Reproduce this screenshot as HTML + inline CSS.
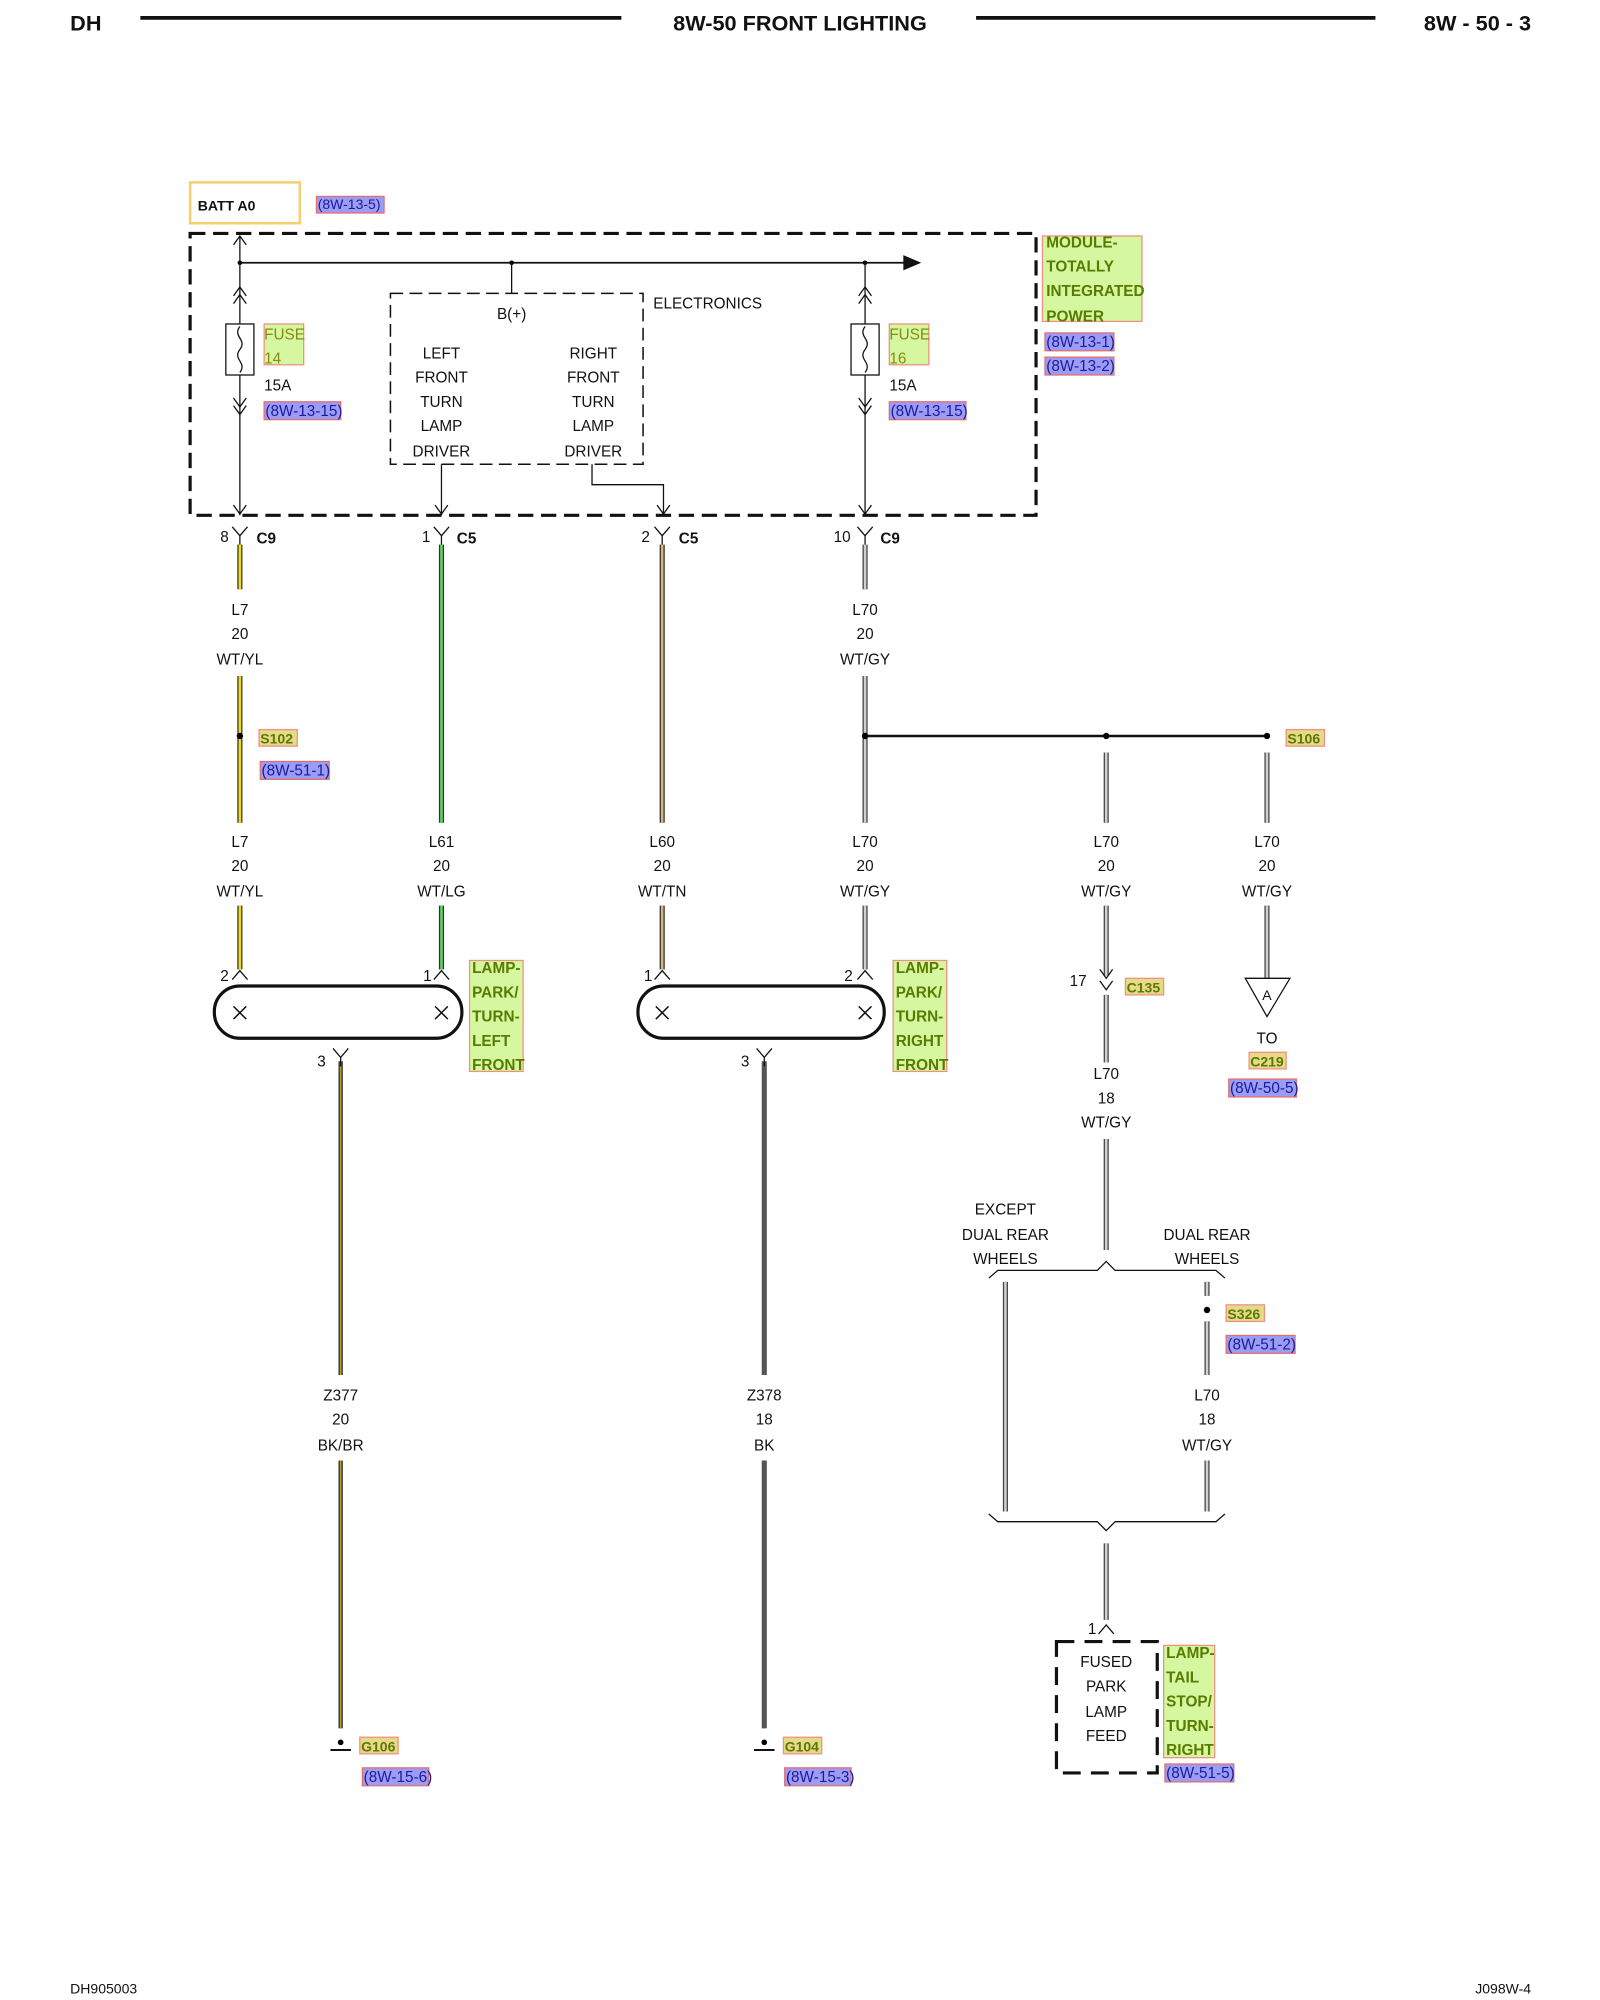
<!DOCTYPE html>
<html><head><meta charset="utf-8"><style>
html,body{margin:0;padding:0;background:#fff;}
svg{display:block;}
text{font-family:"Liberation Sans",sans-serif;font-size:12px;fill:#111;}
.c{text-anchor:middle;}
.b{font-weight:bold;}
.g{fill:#5a7a00;font-weight:bold;}
.gn{fill:#8a8a10;}
.r{fill:#1a1aa0;}
.hb{fill:#9c9cf4;stroke:#e07070;stroke-width:1;}
.hg{fill:#d4f7a0;stroke:#f09080;stroke-width:1;}
.ho{fill:#e7d98a;stroke:#f09080;stroke-width:1;}
</style></head><body>
<svg width="1600" height="2000" viewBox="0 0 1254 1568" preserveAspectRatio="none" xmlns="http://www.w3.org/2000/svg">
<defs>
<g id="yd"><path d="M-6,-8 L0,-1 L6,-8 M0,-1 L0,6" fill="none" stroke="#111" stroke-width="1"/></g>
<g id="up"><path d="M-6,5 L0,-2 L6,5" fill="none" stroke="#111" stroke-width="1"/></g>
<g id="x"><path d="M-5,-5 L5,5 M5,-5 L-5,5" stroke="#111" stroke-width="1.2"/></g>
</defs>
<!-- header -->
<text x="55" y="24" class="b" style="font-size:17px">DH</text>
<line x1="110" y1="14" x2="487" y2="14" stroke="#111" stroke-width="3"/>
<text x="627" y="24" class="b c" style="font-size:17px">8W-50 FRONT LIGHTING</text>
<line x1="765" y1="14" x2="1078" y2="14" stroke="#111" stroke-width="3"/>
<text x="1200" y="24" class="b" style="font-size:17px;text-anchor:end">8W - 50 - 3</text>
<text x="55" y="1563" style="font-size:11px">DH905003</text>
<text x="1200" y="1563" style="font-size:11px;text-anchor:end">J098W-4</text>

<!-- BATT -->
<rect x="149" y="143" width="86" height="32" fill="none" stroke="#f5d070" stroke-width="2"/>
<text x="155" y="165" class="b" style="font-size:11px">BATT A0</text>
<rect x="248" y="154" width="53" height="13" class="hb"/><text x="249" y="164" class="r" style="font-size:11px">(8W-13-5)</text>

<!-- module box -->
<rect x="149" y="183" width="663" height="221" fill="none" stroke="#111" stroke-width="2.5" stroke-dasharray="12 6"/>
<line x1="188" y1="206" x2="710" y2="206" stroke="#111" stroke-width="1.3"/>
<path d="M708,200 L722,206 L708,212Z" fill="#111"/>
<circle cx="188" cy="206" r="1.8"/><circle cx="401" cy="206" r="1.8"/><circle cx="678" cy="206" r="1.8"/>
<line x1="401" y1="206" x2="401" y2="230" stroke="#111"/>
<line x1="188" y1="186" x2="188" y2="404" stroke="#111"/>
<path d="M183,192 L188,185 L193,192 M183,232 L188,225 L193,232 M183,238 L188,231 L193,238 M183,312 L188,319 L193,312 M183,318 L188,325 L193,318 M183,396 L188,403 L193,396" fill="none" stroke="#111"/>
<rect x="177" y="254" width="22" height="40" fill="#fff" stroke="#111"/>
<path d="M188,256 c-6,8 6,10 0,18 c-6,8 6,10 0,18" fill="none" stroke="#111"/>
<rect x="207" y="254" width="31" height="32" class="hg"/>
<text x="207" y="266" class="gn">FUSE</text><text x="207" y="285" class="gn">14</text>
<text x="207" y="306">15A</text>
<rect x="207" y="315" width="60" height="14" class="hb"/><text x="208" y="326" class="r">(8W-13-15)</text>
<line x1="678" y1="206" x2="678" y2="404" stroke="#111"/>
<path d="M673,232 L678,225 L683,232 M673,238 L678,231 L683,238 M673,312 L678,319 L683,312 M673,318 L678,325 L683,318 M673,396 L678,403 L683,396" fill="none" stroke="#111"/>
<rect x="667" y="254" width="22" height="40" fill="#fff" stroke="#111"/>
<path d="M678,256 c-6,8 6,10 0,18 c-6,8 6,10 0,18" fill="none" stroke="#111"/>
<rect x="697" y="254" width="31" height="32" class="hg"/>
<text x="697" y="266" class="gn">FUSE</text><text x="697" y="285" class="gn">16</text>
<text x="697" y="306">15A</text>
<rect x="697" y="315" width="60" height="14" class="hb"/><text x="698" y="326" class="r">(8W-13-15)</text>
<rect x="306" y="230" width="198" height="134" fill="none" stroke="#111" stroke-width="1.2" stroke-dasharray="10 5"/>
<text x="512" y="242">ELECTRONICS</text>
<text x="401" y="250" class="c">B(+)</text>
<text x="346" y="281" class="c">LEFT</text><text x="346" y="300" class="c">FRONT</text><text x="346" y="319" class="c">TURN</text><text x="346" y="338" class="c">LAMP</text><text x="346" y="358" class="c">DRIVER</text>
<text x="465" y="281" class="c">RIGHT</text><text x="465" y="300" class="c">FRONT</text><text x="465" y="319" class="c">TURN</text><text x="465" y="338" class="c">LAMP</text><text x="465" y="358" class="c">DRIVER</text>
<line x1="346" y1="364" x2="346" y2="404" stroke="#111"/>
<path d="M341,396 L346,403 L351,396" fill="none" stroke="#111"/>
<path d="M464,364 L464,380 L520,380 L520,404" fill="none" stroke="#111"/>
<path d="M515,396 L520,403 L525,396" fill="none" stroke="#111"/>
<rect x="817" y="185" width="78" height="67" class="hg"/>
<text x="820" y="194" class="g">MODULE-</text><text x="820" y="213" class="g">TOTALLY</text><text x="820" y="232" class="g">INTEGRATED</text><text x="820" y="252" class="g">POWER</text>
<rect x="819" y="261" width="54" height="14" class="hb"/><text x="820" y="272" class="r">(8W-13-1)</text>
<rect x="819" y="280" width="54" height="14" class="hb"/><text x="820" y="291" class="r">(8W-13-2)</text>

<use href="#yd" x="188" y="421"/><text x="176" y="425" class="c">8</text><text x="201" y="426" class="b">C9</text>
<use href="#yd" x="346" y="421"/><text x="334" y="425" class="c">1</text><text x="358" y="426" class="b">C5</text>
<use href="#yd" x="519" y="421"/><text x="506" y="425" class="c">2</text><text x="532" y="426" class="b">C5</text>
<use href="#yd" x="678" y="421"/><text x="660" y="425" class="c">10</text><text x="690" y="426" class="b">C9</text>

<g fill="none">
<path d="M188,427V462 M188,530V645 M188,710V760" stroke="#333" stroke-width="4"/>
<path d="M188,427V462 M188,530V645 M188,710V760" stroke="#f2e000" stroke-width="2"/>
<path d="M346,427V645 M346,710V760" stroke="#333" stroke-width="4"/>
<path d="M346,427V645 M346,710V760" stroke="#5fd85f" stroke-width="2"/>
<path d="M519,427V645 M519,710V760" stroke="#333" stroke-width="4"/>
<path d="M519,427V645 M519,710V760" stroke="#d6b870" stroke-width="2"/>
<path d="M678,427V462 M678,530V645 M678,710V760 M867,590V645 M867,710V765 M867,780V833 M867,893V980 M993,590V645 M993,710V767 M788,1005V1185 M946,1005V1016 M946,1036V1078 M946,1145V1185 M867,1210V1270" stroke="#444" stroke-width="4"/>
<path d="M678,427V462 M678,530V645 M678,710V760 M867,590V645 M867,710V765 M867,780V833 M867,893V980 M993,590V645 M993,710V767 M788,1005V1185 M946,1005V1016 M946,1036V1078 M946,1145V1185 M867,1210V1270" stroke="#d0d0d0" stroke-width="2"/>
<path d="M267,832V1078 M267,1145V1355" stroke="#444" stroke-width="3.5"/>
<path d="M267,832V1078 M267,1145V1355" stroke="#b8a030" stroke-width="1"/>
<path d="M599,832V1078 M599,1145V1355" stroke="#555" stroke-width="4"/>
</g>
<circle cx="188" cy="577" r="2.5"/>
<rect x="203" y="572" width="30" height="13" class="ho"/><text x="204" y="583" class="g" style="font-size:11px">S102</text>
<rect x="204" y="597" width="54" height="14" class="hb"/><text x="205" y="608" class="r">(8W-51-1)</text>
<line x1="678" y1="577" x2="993" y2="577" stroke="#111" stroke-width="2"/>
<circle cx="678" cy="577" r="2.5"/><circle cx="867" cy="577" r="2.5"/><circle cx="993" cy="577" r="2.5"/>
<rect x="1008" y="572" width="30" height="13" class="ho"/><text x="1009" y="583" class="g" style="font-size:11px">S106</text>

<text x="188" y="482" class="c">L7</text><text x="188" y="501" class="c">20</text><text x="188" y="521" class="c">WT/YL</text>
<text x="678" y="482" class="c">L70</text><text x="678" y="501" class="c">20</text><text x="678" y="521" class="c">WT/GY</text>
<text x="188" y="664" class="c">L7</text><text x="188" y="683" class="c">20</text><text x="188" y="703" class="c">WT/YL</text>
<text x="346" y="664" class="c">L61</text><text x="346" y="683" class="c">20</text><text x="346" y="703" class="c">WT/LG</text>
<text x="519" y="664" class="c">L60</text><text x="519" y="683" class="c">20</text><text x="519" y="703" class="c">WT/TN</text>
<text x="678" y="664" class="c">L70</text><text x="678" y="683" class="c">20</text><text x="678" y="703" class="c">WT/GY</text>
<text x="867" y="664" class="c">L70</text><text x="867" y="683" class="c">20</text><text x="867" y="703" class="c">WT/GY</text>
<text x="993" y="664" class="c">L70</text><text x="993" y="683" class="c">20</text><text x="993" y="703" class="c">WT/GY</text>
<text x="867" y="846" class="c">L70</text><text x="867" y="865" class="c">18</text><text x="867" y="884" class="c">WT/GY</text>
<text x="267" y="1098" class="c">Z377</text><text x="267" y="1117" class="c">20</text><text x="267" y="1137" class="c">BK/BR</text>
<text x="599" y="1098" class="c">Z378</text><text x="599" y="1117" class="c">18</text><text x="599" y="1137" class="c">BK</text>
<text x="946" y="1098" class="c">L70</text><text x="946" y="1117" class="c">18</text><text x="946" y="1137" class="c">WT/GY</text>

<use href="#up" x="188" y="763"/><text x="176" y="769" class="c">2</text>
<use href="#up" x="346" y="763"/><text x="335" y="769" class="c">1</text>
<rect x="168" y="773" width="194" height="41" rx="20" fill="none" stroke="#111" stroke-width="2.5"/>
<use href="#x" x="188" y="794"/><use href="#x" x="346" y="794"/>
<use href="#yd" x="267" y="830"/><text x="252" y="836" class="c">3</text>
<rect x="368" y="753" width="42" height="87" class="hg"/>
<text x="370" y="763" class="g">LAMP-</text><text x="370" y="782" class="g">PARK/</text><text x="370" y="801" class="g">TURN-</text><text x="370" y="820" class="g">LEFT</text><text x="370" y="839" class="g">FRONT</text>

<use href="#up" x="519" y="763"/><text x="508" y="769" class="c">1</text>
<use href="#up" x="678" y="763"/><text x="665" y="769" class="c">2</text>
<rect x="500" y="773" width="193" height="41" rx="20" fill="none" stroke="#111" stroke-width="2.5"/>
<use href="#x" x="519" y="794"/><use href="#x" x="678" y="794"/>
<use href="#yd" x="599" y="830"/><text x="584" y="836" class="c">3</text>
<rect x="700" y="753" width="42" height="87" class="hg"/>
<text x="702" y="763" class="g">LAMP-</text><text x="702" y="782" class="g">PARK/</text><text x="702" y="801" class="g">TURN-</text><text x="702" y="820" class="g">RIGHT</text><text x="702" y="839" class="g">FRONT</text>

<path d="M862,760 L867,767 L872,760 M862,769 L867,776 L872,769" fill="none" stroke="#111"/>
<text x="845" y="773" class="c">17</text>
<rect x="882" y="767" width="30" height="13" class="ho"/><text x="883" y="778" class="g" style="font-size:11px">C135</text>
<path d="M976,767 L1011,767 L993,797Z" fill="#fff" stroke="#111"/>
<text x="993" y="784" class="c" style="font-size:11px">A</text>
<text x="993" y="818" class="c">TO</text>
<rect x="979" y="825" width="29" height="13" class="ho"/><text x="993" y="836" class="c g" style="font-size:11px">C219</text>
<rect x="963" y="846" width="53" height="14" class="hb"/><text x="964" y="857" class="r">(8W-50-5)</text>

<circle cx="267" cy="1366" r="2.2"/><line x1="259" y1="1372" x2="275" y2="1372" stroke="#111" stroke-width="1.5"/>
<rect x="282" y="1362" width="30" height="13" class="ho"/><text x="283" y="1373" class="g" style="font-size:11px">G106</text>
<rect x="284" y="1386" width="52" height="14" class="hb"/><text x="285" y="1397" class="r">(8W-15-6)</text>
<circle cx="599" cy="1366" r="2.2"/><line x1="591" y1="1372" x2="607" y2="1372" stroke="#111" stroke-width="1.5"/>
<rect x="614" y="1362" width="30" height="13" class="ho"/><text x="615" y="1373" class="g" style="font-size:11px">G104</text>
<rect x="615" y="1386" width="52" height="14" class="hb"/><text x="616" y="1397" class="r">(8W-15-3)</text>

<text x="788" y="952" class="c">EXCEPT</text><text x="788" y="972" class="c">DUAL REAR</text><text x="788" y="991" class="c">WHEELS</text>
<text x="946" y="972" class="c">DUAL REAR</text><text x="946" y="991" class="c">WHEELS</text>
<path d="M775,1002 L782,996 L860,996 L867,989 L874,996 L953,996 L960,1002" fill="none" stroke="#111"/>
<circle cx="946" cy="1027" r="2.5"/>
<rect x="961" y="1023" width="30" height="13" class="ho"/><text x="962" y="1034" class="g" style="font-size:11px">S326</text>
<rect x="961" y="1047" width="54" height="14" class="hb"/><text x="962" y="1058" class="r">(8W-51-2)</text>
<path d="M775,1187 L782,1193 L860,1193 L867,1200 L874,1193 L953,1193 L960,1187" fill="none" stroke="#111"/>
<use href="#up" x="867" y="1276"/><text x="856" y="1281" class="c">1</text>
<rect x="828" y="1287" width="79" height="103" fill="none" stroke="#111" stroke-width="2.5" stroke-dasharray="14 8"/>
<text x="867" y="1307" class="c">FUSED</text><text x="867" y="1326" class="c">PARK</text><text x="867" y="1346" class="c">LAMP</text><text x="867" y="1365" class="c">FEED</text>
<rect x="912" y="1290" width="40" height="88" class="hg"/>
<text x="914" y="1300" class="g">LAMP-</text><text x="914" y="1319" class="g">TAIL</text><text x="914" y="1338" class="g">STOP/</text><text x="914" y="1357" class="g">TURN-</text><text x="914" y="1376" class="g">RIGHT</text>
<rect x="913" y="1383" width="54" height="14" class="hb"/><text x="914" y="1394" class="r">(8W-51-5)</text>
</svg>
</body></html>
